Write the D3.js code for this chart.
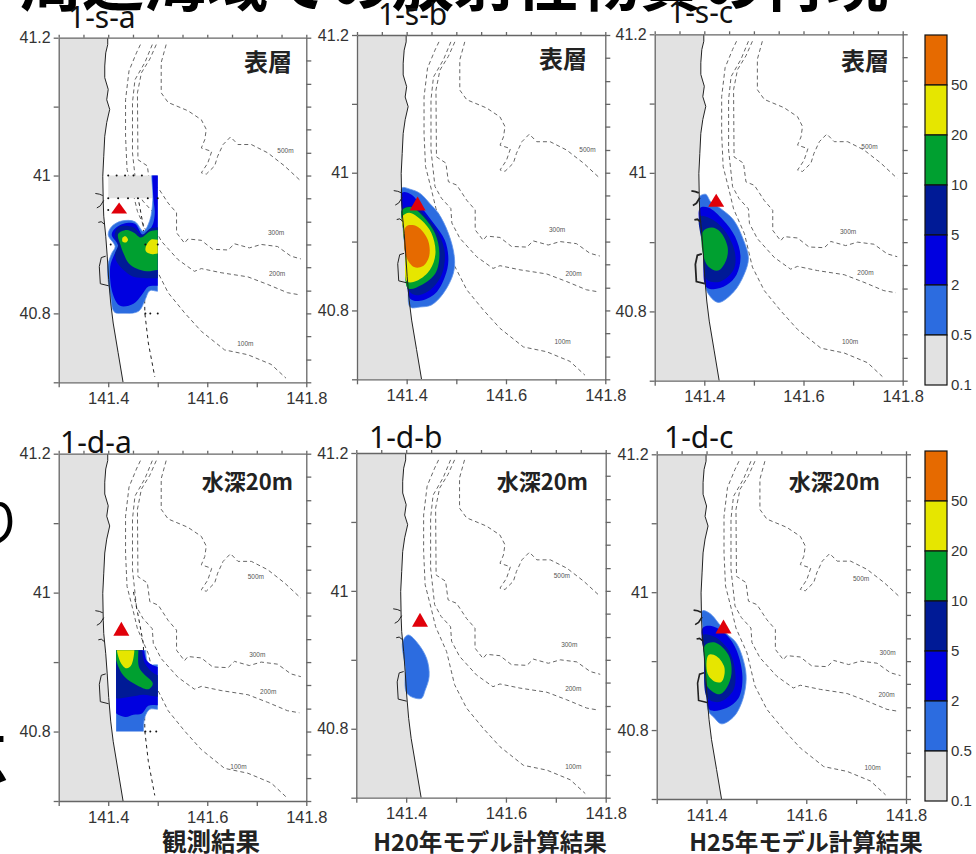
<!DOCTYPE html>
<html><head><meta charset="utf-8">
<style>html,body{margin:0;padding:0;background:#fff;overflow:hidden}svg{display:block}</style>
<script src="https://cdn.jsdelivr.net/npm/d3@7/dist/d3.min.js"></script></head>
<body><svg id="c" width="976" height="854"></svg>
<script>
const coast=[[141.399,41.2],[141.399,41.19],[141.395,41.178],[141.393,41.159],[141.393,41.142],[141.4,41.125],[141.397,41.11],[141.403,41.096],[141.397,41.077],[141.393,41.057],[141.391,41.028],[141.389,40.999],[141.39,40.96],[141.391,40.941],[141.395,40.912],[141.398,40.883],[141.401,40.849],[141.405,40.815],[141.41,40.786],[141.42,40.743],[141.43,40.7]];
const depth100=[[141.465,41.19],[141.457,41.178],[141.442,41.152],[141.435,41.11],[141.435,41.057],[141.438,41.009],[141.45,40.975],[141.459,40.948],[141.481,40.912],[141.497,40.864],[141.521,40.83],[141.554,40.801],[141.588,40.774],[141.635,40.747],[141.682,40.74],[141.729,40.726],[141.759,40.706]];
const depth200=[[141.489,41.19],[141.474,41.164],[141.454,41.139],[141.449,41.106],[141.449,41.033],[141.457,40.98],[141.47,40.963],[141.489,40.948],[141.491,40.927],[141.507,40.905],[141.541,40.878],[141.574,40.861],[141.588,40.865],[141.628,40.859],[141.682,40.853],[141.722,40.842],[141.762,40.83],[141.786,40.827]];
const depth300=[[141.497,41.19],[141.484,41.169],[141.467,41.149],[141.459,41.12],[141.46,41.023],[141.479,41.014],[141.484,40.987],[141.501,40.982],[141.521,40.96],[141.538,40.946],[141.538,40.917],[141.554,40.902],[141.561,40.908],[141.588,40.906],[141.611,40.893],[141.642,40.892],[141.655,40.901],[141.685,40.895],[141.709,40.9],[141.742,40.897],[141.769,40.883],[141.789,40.879]];
const depth500=[[141.517,41.19],[141.507,41.164],[141.507,41.12],[141.521,41.106],[141.561,41.094],[141.588,41.081],[141.598,41.067],[141.595,41.052],[141.588,41.04],[141.609,41.035],[141.601,41.018],[141.588,41.004],[141.598,41.002],[141.615,41.014],[141.621,41.028],[141.632,41.045],[141.647,41.056],[141.662,41.045],[141.689,41.045],[141.722,41.033],[141.756,41.014],[141.789,40.992]];
const depthLines=[depth100,depth200,depth300,depth500];
const depthNames=["100m","200m","300m","500m"];
const shoreDetails=[
 [[141.374,40.974],[141.382,40.973],[141.389,40.971]],
 [[141.377,40.953],[141.384,40.956],[141.391,40.964]],
 [[141.38,40.932],[141.386,40.933],[141.393,40.929]],
 [[141.395,40.883],[141.386,40.881],[141.382,40.868],[141.384,40.843],[141.401,40.84]]];
const surveyLine=[[141.451,41.001],[141.461,40.965],[141.471,40.926],[141.474,40.8],[141.481,40.757],[141.494,40.708]];
const classColors=["#e2e2e2","#2c6ce0","#0000e0","#001a96","#00a030","#e6e600","#e66a00"];
const legendTicks=["50","20","10","5","2","0.5","0.1"];

// plume polygons: [colour class, lon/lat ring]
const plumeSA=[
 [1,[[141.49,41.02],[141.5,41.02],[141.53,41.02],[141.53,40.832],[141.5,40.832],[141.484,40.833],[141.474,40.819],[141.461,40.803],[141.414,40.801],[141.405,40.824],[141.399,40.868],[141.407,40.887],[141.414,40.897],[141.4,40.914],[141.407,40.926],[141.427,40.934],[141.454,40.933],[141.471,40.919],[141.484,40.935],[141.49,40.964]]],
 [2,[[141.492,41.02],[141.5,41.02],[141.53,41.02],[141.53,40.84],[141.5,40.84],[141.481,40.839],[141.468,40.827],[141.451,40.814],[141.424,40.811],[141.409,40.829],[141.404,40.868],[141.412,40.885],[141.42,40.898],[141.407,40.914],[141.414,40.923],[141.431,40.93],[141.454,40.93],[141.47,40.914],[141.488,40.926],[141.494,40.945],[141.491,40.969]]],
 [3,[[141.42,40.925],[141.451,40.925],[141.468,40.914],[141.485,40.923],[141.5,40.925],[141.53,40.925],[141.53,40.851],[141.5,40.851],[141.478,40.851],[141.451,40.853],[141.434,40.861],[141.417,40.875],[141.414,40.887],[141.42,40.899],[141.413,40.912]]],
 [4,[[141.42,40.915],[141.437,40.921],[141.452,40.917],[141.466,40.91],[141.485,40.919],[141.5,40.921],[141.53,40.921],[141.53,40.863],[141.5,40.863],[141.478,40.861],[141.457,40.865],[141.441,40.873],[141.431,40.887],[141.425,40.899]]],
 [5,[[141.476,40.897],[141.486,40.907],[141.5,40.907],[141.53,40.907],[141.53,40.887],[141.5,40.887],[141.486,40.886],[141.476,40.89]]],
 [5,[[141.429,40.91],[141.435,40.912],[141.44,40.907],[141.436,40.903],[141.429,40.904]]]];
const plumeSB=[
 [1,[[141.391,40.978],[141.407,40.976],[141.427,40.97],[141.447,40.955],[141.464,40.941],[141.484,40.912],[141.496,40.878],[141.494,40.854],[141.474,40.825],[141.45,40.808],[141.427,40.805],[141.407,40.805],[141.403,40.835],[141.398,40.883],[141.393,40.917],[141.391,40.946]]],
 [2,[[141.391,40.971],[141.41,40.968],[141.434,40.946],[141.454,40.927],[141.477,40.902],[141.484,40.873],[141.477,40.849],[141.458,40.825],[141.427,40.814],[141.407,40.817],[141.401,40.849],[141.395,40.912],[141.391,40.941]]],
 [3,[[141.391,40.947],[141.417,40.951],[141.44,40.936],[141.464,40.912],[141.477,40.883],[141.47,40.851],[141.448,40.83],[141.42,40.822],[141.403,40.83],[141.397,40.883],[141.393,40.917]]],
 [4,[[141.391,40.946],[141.41,40.95],[141.434,40.936],[141.457,40.912],[141.466,40.883],[141.458,40.854],[141.43,40.837],[141.403,40.832],[141.397,40.883],[141.393,40.917]]],
 [5,[[141.391,40.936],[141.405,40.942],[141.43,40.931],[141.45,40.912],[141.458,40.883],[141.447,40.859],[141.423,40.844],[141.401,40.842],[141.397,40.883],[141.393,40.917]]],
 [6,[[141.399,40.922],[141.421,40.922],[141.443,40.902],[141.445,40.878],[141.432,40.864],[141.415,40.863],[141.399,40.878],[141.395,40.902]]]];
const plumeSC=[
 [1,[[141.391,40.966],[141.403,40.969],[141.413,40.958],[141.432,40.949],[141.459,40.932],[141.479,40.903],[141.489,40.877],[141.48,40.853],[141.459,40.828],[141.428,40.813],[141.406,40.828],[141.401,40.85],[141.397,40.913],[141.391,40.949]]],
 [2,[[141.391,40.949],[141.408,40.95],[141.438,40.932],[141.462,40.908],[141.473,40.879],[141.465,40.853],[141.445,40.838],[141.418,40.832],[141.403,40.836],[141.398,40.889]]],
 [3,[[141.391,40.937],[141.418,40.932],[141.445,40.913],[141.462,40.884],[141.459,40.86],[141.432,40.843],[141.405,40.846],[141.398,40.889]]],
 [4,[[141.397,40.915],[141.415,40.921],[141.432,40.915],[141.447,40.893],[141.444,40.874],[141.428,40.859],[141.408,40.865],[141.397,40.884]]]];
const plumeDA=[
 [1,[[141.41,40.935],[141.468,40.935],[141.481,40.898],[141.5,40.896],[141.53,40.896],[141.53,40.832],[141.5,40.832],[141.484,40.832],[141.474,40.821],[141.464,40.785],[141.41,40.785]]],
 [2,[[141.41,40.935],[141.464,40.935],[141.478,40.902],[141.5,40.893],[141.53,40.893],[141.53,40.838],[141.5,40.838],[141.481,40.837],[141.468,40.826],[141.451,40.824],[141.434,40.821],[141.41,40.831]]],
 [3,[[141.41,40.935],[141.461,40.935],[141.474,40.898],[141.5,40.881],[141.53,40.881],[141.53,40.85],[141.5,40.85],[141.471,40.853],[141.444,40.85],[141.41,40.85]]],
 [4,[[141.41,40.935],[141.456,40.935],[141.463,40.891],[141.49,40.869],[141.481,40.861],[141.457,40.867],[141.434,40.878],[141.422,40.891]]],
 [5,[[141.418,40.935],[141.449,40.935],[141.447,40.896],[141.437,40.891],[141.424,40.901]]]];
const plumeDB=[
 [1,[[141.393,40.926],[141.404,40.936],[141.421,40.926],[141.441,40.902],[141.446,40.876],[141.438,40.856],[141.43,40.844],[141.402,40.851],[141.398,40.89]]]];
const plumeDC=[
 [1,[[141.392,40.973],[141.407,40.969],[141.424,40.955],[141.44,40.94],[141.46,40.926],[141.477,40.892],[141.479,40.868],[141.47,40.839],[141.454,40.819],[141.43,40.809],[141.414,40.819],[141.404,40.827],[141.4,40.848],[141.395,40.911],[141.392,40.948]]],
 [2,[[141.392,40.948],[141.41,40.951],[141.44,40.938],[141.46,40.916],[141.472,40.877],[141.464,40.846],[141.44,40.832],[141.407,40.829],[141.4,40.848],[141.395,40.911]]],
 [3,[[141.392,40.938],[141.417,40.935],[141.444,40.916],[141.457,40.887],[141.454,40.858],[141.427,40.841],[141.402,40.846],[141.395,40.911]]],
 [4,[[141.397,40.923],[141.417,40.927],[141.444,40.909],[141.45,40.882],[141.44,40.861],[141.426,40.852],[141.402,40.863],[141.397,40.892]]],
 [5,[[141.404,40.909],[141.42,40.907],[141.436,40.89],[141.43,40.87],[141.417,40.87],[141.402,40.882]]]];

const stationsSA=[[141.4,41],[141.417,41],[141.434,41],[141.451,41],[141.468,41],[141.4,40.967],[141.42,40.967],[141.44,40.967],[141.46,40.967],[141.48,40.967],[141.5,40.967],[141.4,40.95],[141.405,40.9],[141.475,40.9],[141.5,40.9],[141.475,40.8],[141.485,40.8],[141.5,40.8]];
const stationsDA=[[141.475,40.8],[141.485,40.8],[141.497,40.8]];
const surveyBoxSA=[[141.4,41],[141.49,41],[141.49,40.967],[141.4,40.967]];

// sites and depth label positions per panel (100, 200, 300, 500 m)
const sites={sa:[141.422,40.945],sb:[141.422,40.945],sc:[141.424,40.951],da:[141.4265,40.938],db:[141.4277,40.948],dc:[141.434,40.94]};
const labelsAt={
 sa:[[141.677,40.756],[141.741,40.858],[141.739,40.918],[141.758,41.037]],
 sb:[[141.714,40.755],[141.736,40.854],[141.703,40.918],[141.764,41.033]],
 sc:[[141.694,40.756],[141.725,40.856],[141.69,40.915],[141.733,41.038]],
 da:[[141.663,40.749],[141.723,40.857],[141.701,40.911],[141.698,41.023]],
 db:[[141.735,40.745],[141.735,40.858],[141.727,40.922],[141.712,41.023]],
 dc:[[141.733,40.745],[141.761,40.851],[141.763,40.912],[141.71,41.02]]};

const xMajor=[141.3,141.4,141.5,141.6,141.7,141.8];
const xTop=[141.3,141.35,141.4,141.45,141.5,141.55,141.6,141.65,141.7,141.75,141.8];
const xLabelled=[141.4,141.6,141.8];
const yMajor=[41.2,41.1,41,40.9,40.8,40.7];
const yLabelled=[41.2,41,40.8];
const yRight=[41.2,41.167,41.133,41.1,41.067,41.033,41,40.967,40.933,40.9,40.867,40.833,40.8,40.767,40.733,40.7];

const panels=[
 {k:"sa",tag:"1-s-a",tagX:68,tagY:28,title:"表層",titleR:292,titleY:71,l:58.7,r:306.3,t:37.7,b:382.3,plume:plumeSA,clip:[141.3,141.5,41.0,40.8],st:stationsSA,box:surveyBoxSA,obs:true,triH:11,shore:1},
 {k:"sb",tag:"1-s-b",tagX:378,tagY:25,title:"表層",titleR:587,titleY:68,l:357,r:605.3,t:35,b:379.3,plume:plumeSB,triH:14,shore:1},
 {k:"sc",tag:"1-s-c",tagX:668,tagY:23,title:"表層",titleR:889,titleY:70,l:654.7,r:902.7,t:34.3,b:380.7,plume:plumeSC,triH:13,shore:1.8},
 {k:"da",tag:"1-d-a",tagX:60,tagY:453,title:"水深20m",titleR:293,titleY:490,l:58.7,r:306.3,t:453.7,b:801,plume:plumeDA,clip:[141.416,141.5,40.917,40.8],st:stationsDA,obs:true,triH:14,shore:1},
 {k:"db",tag:"1-d-b",tagX:369,tagY:448,title:"水深20m",titleR:588,titleY:490,l:356.3,r:605.7,t:453,b:797.7,plume:plumeDB,triH:14,shore:1},
 {k:"dc",tag:"1-d-c",tagX:664,tagY:448,title:"水深20m",titleR:880,titleY:490,l:656.7,r:906,t:454.3,b:799,plume:plumeDC,triH:14,shore:1.6}];

const svg=d3.select("#c");
const jp="'Noto Sans CJK JP','Noto Sans',sans-serif";
const axisCol="#666";

// cropped slide text around the figure
svg.append("text").attr("x",20).attr("y",6).attr("font-family",jp).attr("font-weight",700).attr("font-size",62).attr("fill","#000").text("周辺海域での放射性物質の再現");
svg.append("text").attr("x",-32).attr("y",543).attr("font-family",jp).attr("font-size",56).attr("fill","#000").text("り");
svg.append("text").attr("x",-46).attr("y",778).attr("font-family",jp).attr("font-weight",700).attr("font-size",54).attr("fill","#000").text("点");

panels.forEach((p,i)=>{
 const x=d3.scaleLinear().domain([141.3,141.8]).range([p.l,p.r]);
 const y=d3.scaleLinear().domain([41.2,40.7]).range([p.t,p.b]);
 const line=d3.line().x(d=>x(d[0])).y(d=>y(d[1]));
 const smooth=d3.line().x(d=>x(d[0])).y(d=>y(d[1])).curve(d3.curveCatmullRomClosed.alpha(0.5));
 const g=svg.append("g");
 const fid="f"+i,cid="p"+i;
 const defs=g.append("defs");
 defs.append("clipPath").attr("id",fid).append("rect").attr("x",p.l).attr("y",p.t).attr("width",p.r-p.l).attr("height",p.b-p.t);
 if(p.clip){defs.append("clipPath").attr("id",cid).append("rect")
   .attr("x",x(p.clip[0])).attr("y",y(p.clip[2])).attr("width",x(p.clip[1])-x(p.clip[0])).attr("height",y(p.clip[3])-y(p.clip[2]));}
 const map=g.append("g").attr("clip-path",`url(#${fid})`);
 map.append("path").attr("d",line([...coast,[141.3,40.7],[141.3,41.2]])+"Z").attr("fill",classColors[0]);
 map.selectAll(".d").data(depthLines).join("path").attr("d",line).attr("fill","none")
  .attr("stroke","#666").attr("stroke-width",1).attr("stroke-dasharray","4,3");
 if(p.obs) map.append("path").attr("d",line(surveyLine)).attr("fill","none").attr("stroke","#222").attr("stroke-width",1).attr("stroke-dasharray","3.5,3.5");
 if(p.box) map.append("path").attr("d",line(p.box)+"Z").attr("fill",classColors[0]);
 const pg=map.append("g"); if(p.clip) pg.attr("clip-path",`url(#${cid})`);
 pg.selectAll("path").data(p.plume).join("path").attr("d",d=>smooth(d[1])).attr("fill",d=>classColors[d[0]])
  .attr("stroke",d=>d[0]===1?"#5f94ea":"none").attr("stroke-width",0.8);
 map.append("path").attr("d",line(coast)).attr("fill","none").attr("stroke","#222").attr("stroke-width",1);
 map.selectAll(".s").data(shoreDetails).join("path").attr("d",line).attr("fill","none").attr("stroke","#222").attr("stroke-width",p.shore);
 if(p.st) map.selectAll("circle").data(p.st).join("circle").attr("cx",d=>x(d[0])).attr("cy",d=>y(d[1])).attr("r",1).attr("fill","#111");
 const s=sites[p.k],sx=x(s[0]),sy=y(s[1]);
 map.append("path").attr("d",d3.line()([[sx-8,sy],[sx+8,sy],[sx,sy-p.triH]])+"Z").attr("fill","#e0000a");
 map.selectAll("text.dl").data(labelsAt[p.k]).join("text").attr("x",d=>x(d[0])).attr("y",d=>y(d[1])+2.5)
  .attr("text-anchor","middle").attr("font-family","'Liberation Sans',sans-serif").attr("font-size",6.5).attr("fill","#555")
  .text((d,j)=>depthNames[j]);
 const style=a=>{a.selectAll("path,line").attr("stroke",axisCol).attr("stroke-width",1.3);};
 const fmt=v=>String(v);
 const gb=g.append("g").attr("transform",`translate(0,${p.b})`)
  .call(d3.axisBottom(x).tickValues(xMajor).tickSize(5).tickPadding(5).tickSizeOuter(0).tickFormat(v=>xLabelled.includes(v)?fmt(v):""))
  .call(style);
 g.append("g").attr("transform",`translate(0,${p.t})`)
  .call(d3.axisTop(x).tickValues(xTop).tickSize(3).tickSizeOuter(0).tickFormat("")).call(style);
 const gl=g.append("g").attr("transform",`translate(${p.l},0)`)
  .call(d3.axisLeft(y).tickValues(yMajor).tickSize(5).tickPadding(3).tickSizeOuter(0).tickFormat(v=>yLabelled.includes(v)?fmt(v):""))
  .call(style);
 g.append("g").attr("transform",`translate(${p.r},0)`)
  .call(d3.axisRight(y).tickValues(yRight).tickSize(5).tickSizeOuter(0).tickFormat("")).call(style);
 gb.attr("font-size",null).selectAll(".tick text").attr("font-family","'Liberation Sans',sans-serif").attr("font-size",16.5).attr("fill","#333");
 gl.attr("font-size",null).selectAll(".tick text").attr("font-family","'Liberation Sans',sans-serif").attr("font-size",16).attr("fill","#333");
 g.append("text").attr("x",p.titleR).attr("y",p.titleY).attr("text-anchor","end").attr("font-family",jp).attr("font-weight",700).attr("font-size",p.k[0]==="s"?24:22).attr("fill","#222").text(p.title);
 g.append("text").attr("x",p.tagX).attr("y",p.tagY).attr("font-family","'Noto Sans',sans-serif").attr("font-size",30).attr("fill","#111").text(p.tag);
});

// colour legends
[{t:35,b:385},{t:451,b:801}].forEach(L=>{
 const classes=[...classColors].reverse();
 const y=d3.scaleBand().domain(classes).range([L.t,L.b]);
 const tickY=d3.scalePoint().domain(legendTicks).range([y.bandwidth()+L.t,L.b]);
 const g=svg.append("g");
 g.selectAll("rect").data(classes).join("rect").attr("x",925).attr("y",d=>y(d)).attr("width",22).attr("height",y.bandwidth())
  .attr("fill",d=>d).attr("stroke","#111").attr("stroke-width",1.2);
 g.selectAll("text").data(legendTicks).join("text").attr("x",951).attr("y",d=>tickY(d)).attr("dy","0.35em")
  .attr("font-family","'Liberation Sans',sans-serif").attr("font-size",15).attr("fill","#333").text(d=>d);
});

// captions
const captions=[["観測結果",211,24.5],["H20年モデル計算結果",490,23.5],["H25年モデル計算結果",806,23.5]];
svg.selectAll("text.cap").data(captions).join("text").attr("x",d=>d[1]).attr("y",851).attr("text-anchor","middle")
 .attr("font-family",jp).attr("font-weight",700).attr("font-size",d=>d[2]).attr("fill","#222").text(d=>d[0]);
</script></body></html>
